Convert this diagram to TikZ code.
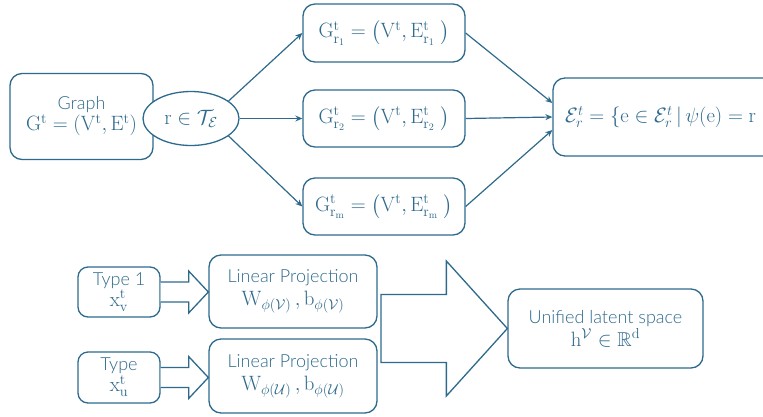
\documentclass[tikz,border=0pt]{standalone}
\usepackage{amsmath,amssymb}
\usepackage[no-math]{fontspec}
\setmainfont{Lato}[UprightFont=* Light]
\usetikzlibrary{arrows.meta,calc,shapes.geometric}
\definecolor{mainc}{HTML}{2E6A8C}
\newcommand{\rmv}[1]{\mathrm{#1}}
\newcommand{\mth}[1]{{\fontsize{20}{21}\selectfont$#1$}}
\begin{document}
\begin{tikzpicture}[x=1pt,y=-1pt,
  every node/.style={text=mainc,font=\fontsize{18}{21}\selectfont,align=center,inner sep=0pt},
  rbox/.style={draw=mainc,line width=1.3pt,rounded corners=12pt,fill=white},
  conn/.style={draw=mainc,line width=1.2pt,-{Stealth[length=7pt,width=6pt]}},
  blk/.style={draw=mainc,line width=1.3pt,fill=white,line join=miter}]
\useasboundingbox (0,0) rectangle (763,416);
\clip (0,0) rectangle (763,416);
% top part
\node[rbox,minimum width=143pt,minimum height=86pt] (g) at (81.5,116.5) {Graph\\ \mth{\rmv{G}^{\rmv{t}} = (\rmv{V}^{\rmv{t}}, \rmv{E}^{\rmv{t}})}};
\node[draw=mainc,line width=1.3pt,fill=white,ellipse,minimum width=96pt,minimum height=54pt] (ell) at (191,118.5) {\mth{\rmv{r} \in \mathcal{T}_{\mathcal{E}}}};
\node[rbox,minimum width=162pt,minimum height=58pt] (g1) at (384,33) {\mth{\rmv{G}^{\rmv{t}}_{\rmv{r}_1} = \left(\rmv{V}^{\rmv{t}}, \rmv{E}^{\rmv{t}}_{\rmv{r}_1}\ \right)}};
\node[rbox,minimum width=162pt,minimum height=57pt] (g2) at (384,118.5) {\mth{\rmv{G}^{\rmv{t}}_{\rmv{r}_2} = \left(\rmv{V}^{\rmv{t}}, \rmv{E}^{\rmv{t}}_{\rmv{r}_2}\ \right)}};
\node[rbox,minimum width=162pt,minimum height=57pt] (gm) at (384,206.5) {\mth{\rmv{G}^{\rmv{t}}_{\rmv{r}_\rmv{m}} = \left(\rmv{V}^{\rmv{t}}, \rmv{E}^{\rmv{t}}_{\rmv{r}_\rmv{m}}\ \right)}};
\node[rbox,minimum width=222pt,minimum height=78pt] (rb) at (664,117) {};
\node[anchor=west] (rt) at (565,117) {\mth{\mathcal{E}^{t}_{r} = \{\rmv{e} \in \mathcal{E}^{t}_{r} \,|\, \psi(\rmv{e}) = \rmv{r}}};
\draw[conn] (ell.25) -- (g1.west);
\draw[conn] (ell.east) -- (g2.west);
\draw[conn] (ell.-25) -- (gm.west);
\draw[conn] (g1.east) -- ([yshift=14pt]rb.west);
\draw[conn] (g2.east) -- (rb.west);
\draw[conn] (gm.east) -- ([yshift=-13pt]rb.west);
% bottom part
\node[rbox,rounded corners=10pt,minimum width=82pt,minimum height=50pt] (t1) at (119,292) {Type 1\\ \mth{\rmv{x}^{\rmv{t}}_{\rmv{v}}}};
\node[rbox,rounded corners=10pt,minimum width=82pt,minimum height=51pt] (t2) at (119,377.5) {Type\\ \mth{\rmv{x}^{\rmv{t}}_{\rmv{u}}}};
\node[rbox,minimum width=168pt,minimum height=73pt] (lp1) at (293,291.5) {Linear Projection\\[2pt] \mth{\rmv{W}_{\phi(\mathcal{V})}\,,\rmv{b}_{\phi(\mathcal{V})}}};
\node[rbox,minimum width=168pt,minimum height=74pt] (lp2) at (293,376) {Linear Projection\\[2pt] \mth{\rmv{W}_{\phi(\mathcal{U})}\,,\rmv{b}_{\phi(\mathcal{U})}}};
\node[rbox,minimum width=195pt,minimum height=79pt] (u) at (605.5,328.5) {Unified latent space\\[2pt] \mth{\rmv{h}^{\mathcal{V}} \in \mathbb{R}^{\rmv{d}}}};
% small block arrows
\foreach \s/\t in {t1/lp1,t2/lp2}{
  \draw[blk] ($(\s.east)+(0,-10)$) -- ($(\s.east)+(28,-10)$) -- ($(\s.east)+(28,-21)$)
    -- (\t.west |- \s.east) -- ($(\s.east)+(28,21)$) -- ($(\s.east)+(28,10)$) -- ($(\s.east)+(0,10)$);
}
% big block arrow
\coordinate (bl) at (381,328.5);
\draw[blk] ($(bl)+(0,-34)$) -- ($(u.west)+(-61,-34)$) -- ($(u.west)+(-61,-67.5)$) -- (u.west)
  -- ($(u.west)+(-61,67.5)$) -- ($(u.west)+(-61,34)$) -- ($(bl)+(0,34)$) -- cycle;
\end{tikzpicture}
\end{document}
